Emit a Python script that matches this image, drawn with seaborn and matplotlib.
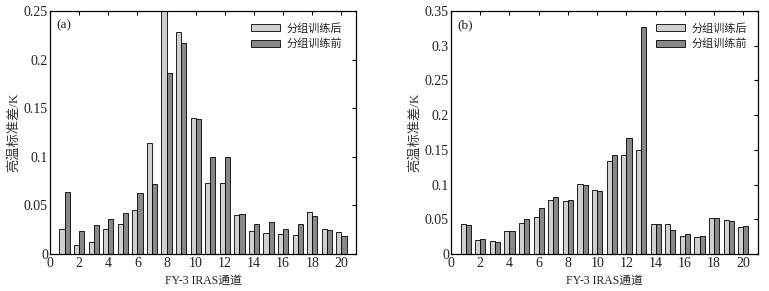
import numpy as np
import pandas as pd
import matplotlib
matplotlib.use("Agg")
import matplotlib.pyplot as plt
from matplotlib.ticker import FuncFormatter
import seaborn as sns

channels = list(range(1, 21))
series_names = ["分组训练后", "分组训练前"]

a_after = [0.0253, 0.0089, 0.0127, 0.0260, 0.0305, 0.0449, 0.1137, 0.2500, 0.2288, 0.1404,
           0.0729, 0.0726, 0.0397, 0.0240, 0.0212, 0.0209, 0.0195, 0.0432, 0.0253, 0.0223]
a_before = [0.0634, 0.0236, 0.0301, 0.0363, 0.0418, 0.0627, 0.0716, 0.1863, 0.2171, 0.1394,
            0.0993, 0.0993, 0.0414, 0.0305, 0.0329, 0.0253, 0.0312, 0.0387, 0.0247, 0.0182]

b_after = [0.0427, 0.0201, 0.0192, 0.0331, 0.0446, 0.0537, 0.0772, 0.0757, 0.1002, 0.0916,
           0.1333, 0.1424, 0.1491, 0.0427, 0.0427, 0.0264, 0.0244, 0.0513, 0.0484, 0.0393]
b_before = [0.0412, 0.0216, 0.0168, 0.0331, 0.0499, 0.0657, 0.0820, 0.0772, 0.0988, 0.0901,
            0.1433, 0.1673, 0.3274, 0.0427, 0.0345, 0.0292, 0.0264, 0.0513, 0.0475, 0.0403]

panel_labels = ["(a)", "(b)"]
y_limits = [0.25, 0.35]
y_ticks = [[0, 0.05, 0.1, 0.15, 0.2, 0.25], [0, 0.05, 0.1, 0.15, 0.2, 0.25, 0.3, 0.35]]
x_ticks = list(range(0, 21, 2))
xlabel = "FY-3 IRAS通道"
ylabel = "亮温标准差/K"

sns.set_theme(style="white")
plt.rcParams['font.family'] = ['Liberation Serif', 'Noto Sans CJK SC', 'DejaVu Sans']
mixed = ['Liberation Serif', 'Noto Sans CJK SC', 'DejaVu Sans']

fig = plt.figure(figsize=(7.69, 2.91), dpi=100)
W, H = 769, 291
axes = [fig.add_axes([50 / W, 37 / H, 306 / W, 243 / H]),
        fig.add_axes([451 / W, 37 / H, 307 / W, 243 / H])]

palette = {"分组训练后": "#d0d0d0", "分组训练前": "#888888"}
legend_anchor_x = [0.955, 0.965]

for ax, after, before, lab, ymax, yt, lx in zip(axes, [a_after, b_after], [a_before, b_before],
                                               panel_labels, y_limits, y_ticks, legend_anchor_x):
    df = pd.DataFrame({
        "channel": channels * 2,
        "value": after + before,
        "group": [series_names[0]] * len(channels) + [series_names[1]] * len(channels),
    })
    sns.barplot(data=df, x="channel", y="value", hue="group", hue_order=series_names,
                palette=palette, native_scale=True, width=0.7, gap=0,
                edgecolor="black", linewidth=0.6, errorbar=None, ax=ax, saturation=1)
    ax.set_xlim(0, 21)
    ax.set_ylim(0, ymax)
    ax.set_xticks(x_ticks)
    ax.set_xticklabels([str(t) for t in x_ticks])
    ax.set_yticks(yt)
    ax.yaxis.set_major_formatter(FuncFormatter(lambda v, p: "%g" % v))
    ax.tick_params(direction="in", length=3, width=0.8, top=True, right=True,
                   labelsize=10, colors="black")
    ax.tick_params(axis="x", pad=2.5)
    ax.tick_params(axis="y", pad=1.5)
    for lbl in ax.get_xticklabels() + ax.get_yticklabels():
        lbl.set_color("#222222")
    for s in ax.spines.values():
        s.set_color("black")
        s.set_linewidth(0.9)
    ax.set_xlabel(xlabel, family=mixed, fontsize=8.5, labelpad=3, color="#222222")
    ax.set_ylabel(ylabel, family=mixed, fontsize=9.5, labelpad=3, color="#333333")
    ax.text(0.022, 0.94, lab, transform=ax.transAxes, fontsize=9.5, va="center", ha="left",
            color="#222222")
    handles, labels = ax.get_legend_handles_labels()
    ax.legend(handles, labels, loc="upper right", bbox_to_anchor=(lx, 0.952),
              frameon=False, prop={'family': mixed, 'size': 8},
              handlelength=2.6, handleheight=0.55, handletextpad=0.6,
              labelspacing=0.45, borderaxespad=0, borderpad=0)

fig.savefig("out.png", dpi=100)
